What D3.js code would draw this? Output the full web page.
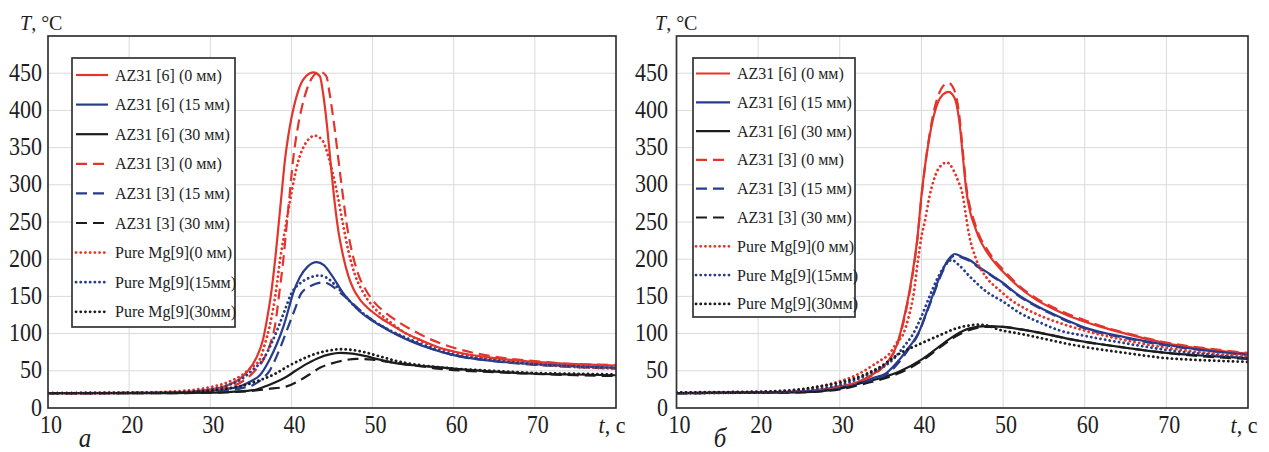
<!DOCTYPE html>
<html><head><meta charset="utf-8">
<script src="https://cdn.jsdelivr.net/npm/d3@7"></script>
<style>
body{margin:0;background:#fff}
svg{display:block}
</style>
</head><body>
<svg id="c" width="1269" height="452"></svg>
<script>
// ---------- tick labels / categories ----------
const xTicks = [10, 20, 30, 40, 50, 60, 70];
const yTicks = [0, 50, 100, 150, 200, 250, 300, 350, 400, 450];
const gridX = [20, 30, 40, 50, 60, 70];
const gridY = [50, 100, 150, 200, 250, 300, 350, 400, 450];
const yAxisTitle = ["T", ", °C"];
const xAxisTitle = ["t", ", с"];
const panelLabels = ["а", "б"];
const legendLabels = [
  "AZ31 [6] (0 мм)", "AZ31 [6] (15 мм)", "AZ31 [6] (30 мм)",
  "AZ31 [3] (0 мм)", "AZ31 [3] (15 мм)", "AZ31 [3] (30 мм)",
  "Pure Mg[9](0 мм)", "Pure Mg[9](15мм)", "Pure Mg[9](30мм)"
];

// ---------- panel а : [t, T] ----------
const a_AZ6_0 = [[10,20],[20,20],[25,21],[28,22.5],[30,25],[32,30],[33.5,38],[34.5,48],[35.7,68],[36.5,92],[37,120],[37.5,154],[38,200],[38.4,244],[38.8,289],[39.2,333],[39.8,378],[40.3,405],[40.8,425],[41.5,442],[42.7,451],[43.5,446],[43.9,423],[44.4,378],[44.8,333],[45.2,289],[45.7,244],[46.4,203],[47,178],[47.6,161],[48.5,145],[50,129],[51,121],[52,114],[54,101],[56,91],[58,82],[60,76],[65,67],[70,62],[75,59],[80,57]];
const a_AZ6_15 = [[10,20],[25,20.5],[28,21.5],[30,23],[32,25.5],[33.6,29],[35,36],[36.1,44],[37.3,65],[38.2,86],[39,109],[39.7,135],[40.2,154],[41,175],[42,190],[43.1,196],[44,192],[45,178],[46.4,154],[47.5,140],[48.4,130],[50,117],[50.9,111],[52,104],[54,93],[56,84],[58,77],[60,71],[65,63],[70,59],[75,56],[80,54]];
const a_AZ6_30 = [[10,20],[25,20],[30,20.5],[33,22],[35.3,24],[37,30],[38.5,37],[39.4,42],[40.5,50],[42,60],[43.5,68],[44.7,72],[46,74],[47.5,73],[49,70],[50.9,65],[53,60],[55,57.5],[58,55],[60,53],[65,49],[68,47],[70,46],[75,45],[80,44]];
const a_AZ3_0 = [[10,20],[25,20.5],[28,21.5],[30,23],[32,27],[34,36],[35.5,50],[36.7,68],[37.5,90],[38,112],[38.5,154],[39,199],[39.4,244],[39.8,289],[40.2,333],[40.8,378],[41.3,405],[41.8,425],[42.5,443],[43.5,452],[44.3,446],[44.7,423],[45.3,378],[45.8,333],[46.3,289],[46.8,248],[47.5,208],[48.3,178],[49.2,158],[50.3,141],[51.5,129],[53,117],[55,104],[57,93],[60,81],[65,69],[70,63],[75,59],[80,58]];
const a_AZ3_15 = [[10,20],[25,20.5],[30,21.5],[32,23],[34,27],[35.3,31],[36.5,40],[37.3,50],[38,65],[38.8,86],[39.6,109],[40.4,132],[41.2,154],[42.2,163],[43,167],[44,169],[45,164],[46,155],[47,146],[48.4,132],[50,118],[52,105],[54,94],[56,85],[58,77],[60,71],[65,63],[70,58],[75,55],[80,53]];
const a_AZ3_30 = [[10,20],[25,20],[30,20.5],[33,21.5],[35,23],[37,25.5],[39.4,29],[41,37],[42.5,47],[43.5,54],[45,60],[46.5,64],[48,66],[50,65],[52,62],[54,59],[56,56],[58,53],[60,51],[65,48],[70,46],[75,44],[80,43]];
const a_Mg_0 = [[10,20],[20,20.5],[25,22],[28,24.5],[30,28],[32,34],[34,45],[35,54],[36.1,65],[36.7,85],[37.3,109],[38,150],[38.6,199],[39.3,245],[40,289],[40.8,330],[41.7,355],[42.9,366],[43.8,360],[44.5,340],[45.1,315],[45.7,285],[46.3,250],[47,212],[47.8,180],[48.7,158],[50,137],[51,126],[52,117],[54,101],[56,90],[58,81],[60,75],[65,65],[70,59],[75,55],[80,53]];
const a_Mg_15 = [[10,20],[25,21],[28,22.5],[30,25],[32,30],[34,40],[35.3,52],[36.5,65],[37.5,86],[38.4,109],[39.2,132],[40,154],[41,167],[42,174],[43.5,178],[44.5,174],[45.5,164],[46.5,152],[47.5,140],[48.4,131],[50,118],[52,105],[54,95],[56,86],[58,78],[60,72],[65,64],[70,59],[75,56],[80,54]];
const a_Mg_30 = [[10,20],[25,20.5],[28,21.5],[30,23],[32,26],[34,30],[36,37],[38,46],[39.4,55],[41,64],[43,73],[44.5,77],[46,79],[47.5,78],[49,75],[51,69],[53,63],[55,59],[58,55],[60,53],[65,50],[70,47],[75,46],[80,45]];

// ---------- panel б : [t, T] ----------
const b_AZ6_0 = [[10,20],[20,21],[25,22],[28,25],[30,29],[32,34],[34,45],[35,53],[36,64],[37,85],[38,128],[38.5,155],[39,188],[39.5,228],[40,285],[40.5,330],[41,365],[41.5,392],[42,410],[42.6,421],[43.3,425],[44,418],[44.7,380],[45.1,335],[45.5,292],[46,262],[46.5,245],[47,230],[48,210],[49,195],[50,183],[52,162],[54,146],[56,134],[58,124],[60,116],[62,109],[65,100],[70,87],[75,79],[80,73]];
const b_AZ6_15 = [[10,20],[20,21],[25,22],[28,24],[30,27],[32,32],[34,40],[35.7,47],[37.3,65],[38.5,82],[39.6,100],[40.5,125],[41.4,152],[42.3,178],[43.2,198],[44.1,207],[45,203],[45.9,199],[47,190],[48.8,177],[50,168],[51.6,154],[54.5,135],[56,127],[58,117],[60,108],[65,95],[70,85],[75,77],[80,72]];
const b_AZ6_30 = [[10,20],[20,20.5],[25,21],[28,23],[30,26],[32.4,33],[34.9,40],[37.3,49],[40,65],[42.7,87],[44,97],[45.9,107],[48,110],[50,109],[52,106],[55,100],[58,93],[60,89],[65,81],[70,74],[75,70],[80,67]];
const b_AZ3_0 = [[10,20],[25,22],[28,25],[30,29],[32,34],[34,44],[35,52],[36,63],[37,84],[38,125],[38.5,152],[39,185],[39.5,226],[40,283],[40.5,330],[41,368],[41.5,398],[42,418],[42.6,432],[43.3,437],[44,428],[44.7,388],[45.1,342],[45.5,298],[46,268],[46.5,250],[47,234],[48,214],[49,198],[50,186],[52,164],[54,148],[56,136],[58,126],[60,118],[62,110],[65,101],[70,88],[75,80],[80,74]];
const b_AZ3_15 = [[10,20],[25,21.5],[30,26],[32,31],[34,38],[35.7,45],[37.3,62],[38.5,80],[39.6,99],[40.5,124],[41.4,150],[42.3,176],[43.2,196],[44.1,205],[45,202],[46,197],[47,189],[48.8,176],[50,167],[51.6,153],[54.5,134],[56,126],[58,116],[60,107],[65,94],[70,84],[75,77],[80,71]];
const b_AZ3_30 = [[10,20],[25,21],[28,22.5],[30,25],[32.4,31],[34.9,38],[37.3,47],[40,63],[42.7,85],[44,95],[45.9,105],[48,109],[50,109],[52,106],[55,100],[58,93],[60,89],[65,81],[70,74],[75,69],[80,66]];
const b_Mg_0 = [[10,20],[20,21],[25,24],[28,30],[30,36],[32,44],[33.3,52],[34,57],[35,64],[36,72],[37,88],[37.8,100],[38.5,125],[39,150],[39.6,200],[40,230],[40.4,250],[41,285],[41.5,306],[42,320],[43.1,330],[44,318],[44.5,305],[45,289],[45.5,255],[45.8,235],[46.7,200],[48,175],[49.6,158],[51,145],[53,132],[55,122],[57,114],[60,104],[65,91],[70,81],[75,74],[80,70]];
const b_Mg_15 = [[10,20],[20,21],[25,23],[28,27],[30,31],[32,38],[34,48],[36.5,65],[37.8,82],[39,100],[40,123],[41,150],[42,175],[43,193],[43.7,199],[44.5,193],[45.9,177],[48,156],[50,143],[52,128],[54.5,115],[57,104],[60,97],[65,87],[70,78],[75,72],[80,67]];
const b_Mg_30 = [[10,21],[20,22],[25,25],[28,30],[30,34],[32.4,42],[34.9,55],[37.3,73],[40,87],[42.7,100],[44,106],[45.9,111],[47,112],[48,111],[49.6,105],[52,100],[55,93],[58,86],[60,82],[65,74],[70,67],[75,64],[80,62]];

const panelA = [a_AZ6_0, a_AZ6_15, a_AZ6_30, a_AZ3_0, a_AZ3_15, a_AZ3_30, a_Mg_0, a_Mg_15, a_Mg_30];
const panelB = [b_AZ6_0, b_AZ6_15, b_AZ6_30, b_AZ3_0, b_AZ3_15, b_AZ3_30, b_Mg_0, b_Mg_15, b_Mg_30];

// ---------- styles ----------
const FONT = "'Liberation Serif','DejaVu Serif','Noto Serif','Times New Roman',serif";
const RED = "#e2352c", BLUE = "#273d8b", BLACK = "#1c1c1c";
const colors = [RED, BLUE, BLACK, RED, BLUE, BLACK, RED, BLUE, BLACK];
const kinds = ["solid","solid","solid","dash","dash","dash","dot","dot","dot"];
function applyStyle(sel, kind, color) {
  sel.attr("stroke", color).attr("fill", "none");
  if (kind === "solid") sel.attr("stroke-width", 2.2);
  if (kind === "dash") sel.attr("stroke-width", 2.2).attr("stroke-dasharray", "11,6");
  if (kind === "dot") sel.attr("stroke-width", 2.8).attr("stroke-linecap", "round").attr("stroke-dasharray", "0.1,4.6");
}

const svg = d3.select("#c");

function txt(g, x, y, parts, opts) {
  const sy = opts.sy || 1.12;
  const t = g.append("text")
    .attr("transform", `translate(${x},${y}) scale(1,${sy})`)
    .attr("text-anchor", opts.anchor || "start")
    .attr("font-family", FONT)
    .attr("fill", "#1e1e1e")
    .attr("font-size", opts.size);
  parts.forEach(p => {
    const ts = t.append("tspan").text(p.s);
    if (p.i) ts.attr("font-style", "italic");
  });
  return t;
}

const panels = [
  {data: panelA, x0: 48, x1: 616, yt: 36, yb: 408, yTickX: 42, titleX: 20, leg: {x: 72, y: 58, w: 163, h: 269, row0: 75, dy: 29.6, lx0: 76, lx1: 108, tx: 115}, label: panelLabels[0], labX: 85},
  {data: panelB, x0: 676.5, x1: 1248, yt: 36, yb: 408, yTickX: 668, titleX: 655, leg: {x: 693, y: 58, w: 162, h: 259, row0: 73.5, dy: 28.8, lx0: 696, lx1: 730, tx: 737}, label: panelLabels[1], labX: 720}
];

panels.forEach((P, pi) => {
  const g = svg.append("g");
  const x = d3.scaleLinear().domain([10, 80]).range([P.x0, P.x1]);
  const y = d3.scaleLinear().domain([0, 500]).range([P.yb, P.yt]);

  // grid
  g.selectAll(".gx").data(gridX).enter().append("line")
    .attr("x1", d => x(d)).attr("x2", d => x(d)).attr("y1", P.yt).attr("y2", P.yb)
    .attr("stroke", "#dadada").attr("stroke-width", 1);
  g.selectAll(".gy").data(gridY).enter().append("line")
    .attr("y1", d => y(d)).attr("y2", d => y(d)).attr("x1", P.x0).attr("x2", P.x1)
    .attr("stroke", "#dadada").attr("stroke-width", 1);

  // curves
  const clipId = "clip" + pi;
  svg.append("defs").append("clipPath").attr("id", clipId).append("rect")
    .attr("x", P.x0).attr("y", P.yt).attr("width", P.x1 - P.x0).attr("height", P.yb - P.yt);
  const line = d3.line().x(d => x(d[0])).y(d => y(d[1])).curve(d3.curveMonotoneX);
  const cg = g.append("g").attr("clip-path", `url(#${clipId})`);
  P.data.forEach((s, i) => {
    cg.append("path").attr("d", line(s)).call(applyStyle, kinds[i], colors[i]);
  });

  // frame
  g.append("rect").attr("x", P.x0).attr("y", P.yt).attr("width", P.x1 - P.x0).attr("height", P.yb - P.yt)
    .attr("fill", "none").attr("stroke", "#333").attr("stroke-width", 1.7);

  // y tick labels
  yTicks.forEach(v => txt(g, P.yTickX, y(v) + 7.5, [{s: String(v)}], {size: 22, anchor: "end", sy: 1.1}));
  // x tick labels
  xTicks.forEach(v => txt(g, x(v) + 3, 433, [{s: String(v)}], {size: 22, anchor: "middle", sy: 1.1}));
  // axis titles
  txt(g, P.titleX, 30, [{s: yAxisTitle[0], i: true}, {s: yAxisTitle[1]}], {size: 20, anchor: "start", sy: 1.1});
  txt(g, x(80) - 4, 433, [{s: xAxisTitle[0], i: true}, {s: xAxisTitle[1]}], {size: 22, anchor: "middle", sy: 1.05});
  txt(g, P.labX, 447, [{s: P.label, i: true}], {size: 25, anchor: "middle", sy: 1.05});

  // legend
  const L = P.leg;
  const lg = g.append("g");
  lg.append("rect").attr("x", L.x).attr("y", L.y).attr("width", L.w).attr("height", L.h)
    .attr("fill", "#fff").attr("stroke", "#333").attr("stroke-width", 1.7);
  legendLabels.forEach((lab, i) => {
    const yy = L.row0 + i * L.dy;
    lg.append("line").attr("x1", L.lx0).attr("x2", L.lx1).attr("y1", yy).attr("y2", yy)
      .call(applyStyle, kinds[i], colors[i]);
    txt(lg, L.tx, yy + 5.5, [{s: lab}], {size: 16, anchor: "start", sy: 1.08});
  });
});
</script>
</body></html>
